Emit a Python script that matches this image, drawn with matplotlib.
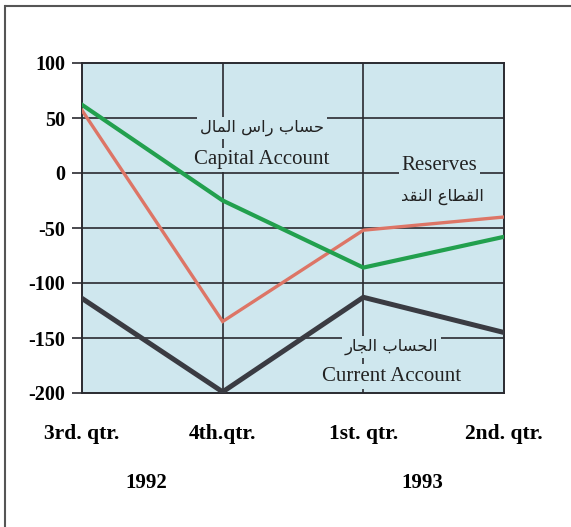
import matplotlib
matplotlib.use("Agg")
import matplotlib.pyplot as plt
from matplotlib.lines import Line2D

# ---- data ----
quarters = ["3rd. qtr.", "4th.qtr.", "1st. qtr.", "2nd. qtr."]
years = ["1992", "1993"]
current_account = [-114, -199, -113, -145]
capital_account = [62, -25, -86, -58]
reserves = [57, -135, -52, -40]
y_ticks = [100, 50, 0, -50, -100, -150, -200]

# Arabic labels, written in visual (shaped, left-to-right) order using presentation forms
ar_capital = "\uFEDD\uFE8E\uFEE4\uFEDF\uFE8D \uFEB1\uFE8D\uFEAD \uFE8F\uFE8E\uFEB4\uFEA3"   # حساب راس المال
ar_reserves = "\uFEAA\uFED8\uFEE8\uFEDF\uFE8D \uFEC9\uFE8E\uFEC4\uFED8\uFEDF\uFE8D"        # القطاع النقد
ar_current = "\uFEAD\uFE8E\uFEA0\uFEDF\uFE8D \uFE8F\uFE8E\uFEB4\uFEA4\uFEDF\uFE8D"         # الحساب الجار

BG = "#cfe7ee"
GRID = "#2a2a30"
serif = ["Liberation Serif", "DejaVu Serif"]
arab = ["DejaVu Sans"]

fig = plt.figure(figsize=(5.71, 5.27), dpi=100)
fig.patch.set_facecolor("white")
ax = fig.add_axes([82/571, 1-393/527, 422/571, 330/527])
ax.set_facecolor(BG)

x = list(range(len(quarters)))
ax.plot(x, reserves, color="#dd7566", lw=2.4, zorder=3, solid_joinstyle="miter")
ax.plot(x, capital_account, color="#22a04e", lw=3.0, zorder=3, solid_joinstyle="miter")
ax.plot(x, current_account, color="#3a3b42", lw=3.6, zorder=3, solid_joinstyle="miter")

ax.set_xlim(0, 3)
ax.set_ylim(-200, 100)
ax.set_yticks(y_ticks)
ax.set_yticklabels([str(v) for v in y_ticks], fontfamily=serif, fontweight="bold", fontsize=14.5)
ax.set_xticks(x)
ax.set_xticklabels(quarters, fontfamily=serif, fontweight="bold", fontsize=15.5)
ax.tick_params(axis="x", length=0, pad=22)
ax.tick_params(axis="y", length=7, width=1.2, color=GRID, pad=5)

for v in y_ticks[1:-1]:
    ax.axhline(v, color=GRID, lw=1.2, zorder=1)
for xv in [1, 2]:
    ax.axvline(xv, color=GRID, lw=1.2, zorder=1)
for s in ax.spines.values():
    s.set_color(GRID)
    s.set_linewidth(1.4)

box = dict(facecolor=BG, edgecolor="none", pad=2)
ax.text(1.28, 41, ar_capital, family=arab, fontsize=11.8, ha="center", va="center", color="#222", bbox=box, zorder=2)
ax.text(1.28, 12, "Capital Account", family=serif, fontsize=15, ha="center", va="center", color="#222", bbox=box, zorder=2)
ax.text(2.54, 7, "Reserves", family=serif, fontsize=15, ha="center", va="center", color="#222", bbox=box, zorder=2)
ax.text(2.56, -22, ar_reserves, family=arab, fontsize=11.8, ha="center", va="center", color="#222", bbox=box, zorder=2)
ax.text(2.2, -158, ar_current, family=arab, fontsize=11.8, ha="center", va="center", color="#222", bbox=box, zorder=2)
ax.text(2.2, -185, "Current Account", family=serif, fontsize=15, ha="center", va="center", color="#222", bbox=box, zorder=2)

# year labels
ax.text(0.46, -0.273, years[0], transform=ax.get_xaxis_transform(), family=serif, fontweight="bold",
        fontsize=15, ha="center", va="center", clip_on=False)
ax.text(2.42, -0.273, years[1], transform=ax.get_xaxis_transform(), family=serif, fontweight="bold",
        fontsize=15, ha="center", va="center", clip_on=False)

# outer frame (top and left edges visible)
fig.add_artist(Line2D([6/571, 1], [1-6/527, 1-6/527], color="#555", lw=1.5))
fig.add_artist(Line2D([5/571, 5/571], [0, 1-6/527], color="#555", lw=1.5))

fig.savefig("out.png", dpi=100)
